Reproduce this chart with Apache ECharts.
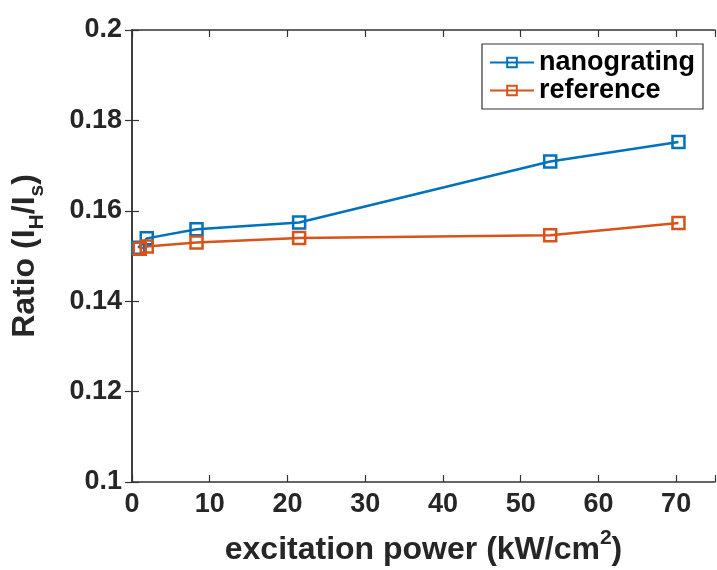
<!DOCTYPE html>
<html>
<head>
<meta charset="utf-8">
<script src="https://cdn.jsdelivr.net/npm/echarts@6/dist/echarts.min.js"></script>
<style>
  html, body { margin: 0; padding: 0; background: #fff; }
  #chart { width: 717px; height: 570px; }
</style>
</head>
<body>
<div id="chart"></div>
<script>
// values
const seriesNames = ['nanograting', 'reference'];
const nanoX = [0.8, 1.9, 8.3, 21.5, 53.8, 70.3];
const nanoY = [0.1518, 0.1539, 0.1559, 0.1574, 0.1709, 0.1752];
const refX = [1.0, 1.9, 8.3, 21.5, 53.8, 70.3];
const refY = [0.1516, 0.1521, 0.1530, 0.1540, 0.1546, 0.1573];

const FONT = 'Liberation Sans';
const TEXT = '#262626';
const AXIS = '#333333';

function pairs(xs, ys) {
    let out = [];
    for (let i = 0; i < xs.length; i++) {
        out.push([xs[i], ys[i]]);
    }
    return out;
}

function lineSeries(name, color, data) {
    return {
        name: name,
        type: 'line',
        xAxisIndex: 0,
        yAxisIndex: 0,
        data: data,
        symbol: 'rect',
        symbolSize: 12,
        showSymbol: true,
        lineStyle: { color: color, width: 2.5 },
        itemStyle: { color: 'rgba(255,255,255,0)', borderColor: color, borderWidth: 2.5 },
        emphasis: { disabled: true },
        animation: false
    };
}

const axisCommon = {
    axisLine: { show: true, lineStyle: { color: AXIS, width: 1.5 } },
    axisTick: { show: true, inside: true, length: 7, lineStyle: { color: AXIS, width: 1.2 } },
    splitLine: { show: false }
};

const chart = echarts.init(document.getElementById('chart'));
chart.setOption({
    animation: false,
    grid: { left: 132, right: 2, top: 30, bottom: 88, outerBoundsMode: 'none' },
    legend: {
        data: seriesNames,
        orient: 'vertical',
        left: 482,
        top: 44,
        padding: [5, 8, 5, 7],
        itemGap: 1,
        itemWidth: 44,
        itemHeight: 12,
        borderColor: AXIS,
        borderWidth: 1.2,
        textStyle: { fontFamily: FONT, fontWeight: 'bold', fontSize: 27, color: '#000' }
    },
    xAxis: [
        Object.assign({
            type: 'value', min: 0, max: 75, interval: 10, position: 'bottom',
            name: 'excitation power (kW/cm{sup|2})',
            nameLocation: 'middle',
            nameGap: 46,
            nameTextStyle: {
                fontFamily: FONT, fontWeight: 'bold', fontSize: 32, color: TEXT, lineHeight: 44,
                rich: { sup: { fontFamily: FONT, fontWeight: 'bold', fontSize: 21, color: TEXT, lineHeight: 20, verticalAlign: 'top' } }
            },
            axisLabel: {
                margin: 9, fontFamily: FONT, fontWeight: 'bold', fontSize: 27, color: TEXT,
                formatter: function (v) { return v > 70 ? '' : String(v); }
            }
        }, axisCommon),
        Object.assign({
            type: 'value', min: 0, max: 75, interval: 10, position: 'top',
            axisLabel: { show: false }
        }, axisCommon)
    ],
    yAxis: [
        Object.assign({
            type: 'value', min: 0.1, max: 0.2, interval: 0.02, position: 'left',
            name: 'Ratio (I{sub|H}/I{sub|s})',
            nameLocation: 'middle',
            nameGap: 84,
            nameTextStyle: {
                fontFamily: FONT, fontWeight: 'bold', fontSize: 32, color: TEXT, lineHeight: 46,
                rich: { sub: { fontFamily: FONT, fontWeight: 'bold', fontSize: 21, color: TEXT, lineHeight: 20, verticalAlign: 'bottom' } }
            },
            axisLabel: { margin: 10, fontFamily: FONT, fontWeight: 'bold', fontSize: 27, color: TEXT }
        }, axisCommon),
        Object.assign({
            type: 'value', min: 0.1, max: 0.2, interval: 0.02, position: 'right',
            axisLabel: { show: false }
        }, axisCommon)
    ],
    series: [
        lineSeries(seriesNames[0], '#0072BD', pairs(nanoX, nanoY)),
        lineSeries(seriesNames[1], '#D95319', pairs(refX, refY))
    ]
});
</script>
</body>
</html>
